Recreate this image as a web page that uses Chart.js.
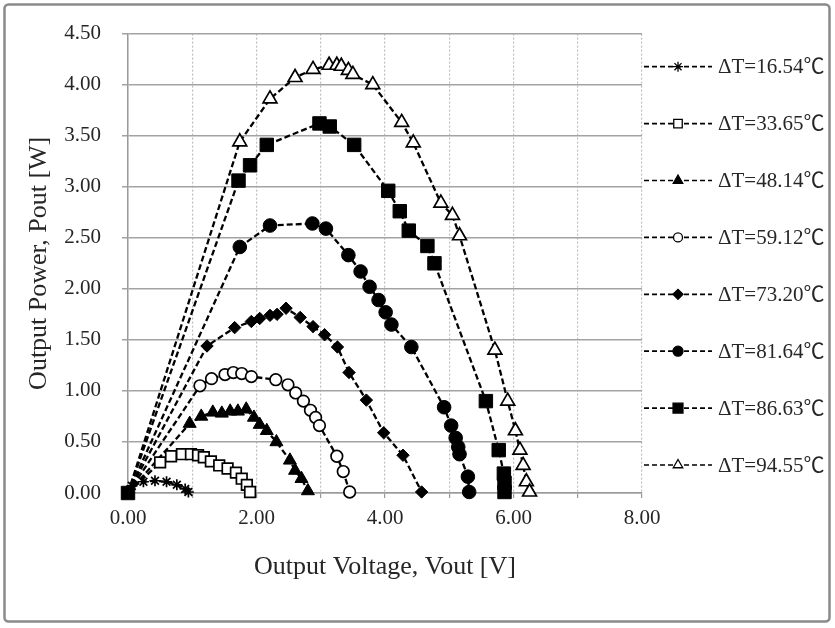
<!DOCTYPE html>
<html><head><meta charset="utf-8">
<script src="https://cdn.jsdelivr.net/npm/chart.js@4.4.1/dist/chart.umd.min.js"></script>
<style>html,body{margin:0;padding:0;background:#fff}canvas{display:block}</style>
</head><body>
<canvas id="c" width="835" height="628"></canvas>
<script>
// ---- data ----
const seriesLabels = ['ΔT=16.54℃','ΔT=33.65℃','ΔT=48.14℃','ΔT=59.12℃','ΔT=73.20℃','ΔT=81.64℃','ΔT=86.63℃','ΔT=94.55℃'];
const v1 = [0, 0.06, 0.24, 0.42, 0.60, 0.76, 0.89, 0.94];
const p1 = [0, 0.07, 0.11, 0.12, 0.11, 0.08, 0.04, 0.01];
const v2 = [0, 0.50, 0.67, 0.84, 0.98, 1.09, 1.18, 1.29, 1.42, 1.55, 1.68, 1.77, 1.85, 1.90];
const p2 = [0, 0.30, 0.36, 0.38, 0.38, 0.37, 0.35, 0.31, 0.27, 0.24, 0.20, 0.14, 0.08, 0.01];
const v3 = [0, 0.96, 1.14, 1.32, 1.46, 1.59, 1.71, 1.84, 1.96, 2.05, 2.16, 2.31, 2.52, 2.60, 2.70, 2.80];
const p3 = [0, 0.68, 0.75, 0.79, 0.78, 0.80, 0.80, 0.82, 0.74, 0.67, 0.61, 0.50, 0.32, 0.22, 0.14, 0.02];
const v4 = [0, 1.12, 1.30, 1.51, 1.64, 1.77, 1.92, 2.30, 2.49, 2.61, 2.73, 2.84, 2.92, 2.98, 3.25, 3.35, 3.45];
const p4 = [0, 1.05, 1.12, 1.16, 1.18, 1.17, 1.14, 1.11, 1.06, 0.98, 0.90, 0.81, 0.74, 0.66, 0.36, 0.21, 0.01];
const v5 = [0, 1.23, 1.66, 1.92, 2.05, 2.21, 2.32, 2.46, 2.68, 2.88, 3.06, 3.26, 3.44, 3.71, 3.98, 4.28, 4.57];
const p5 = [0, 1.44, 1.62, 1.68, 1.71, 1.74, 1.75, 1.81, 1.72, 1.63, 1.55, 1.43, 1.18, 0.91, 0.59, 0.37, 0.01];
const v6 = [0, 1.74, 2.21, 2.87, 3.08, 3.43, 3.62, 3.76, 3.90, 4.01, 4.10, 4.41, 4.92, 5.03, 5.10, 5.14, 5.16, 5.29, 5.31];
const p6 = [0, 2.41, 2.62, 2.64, 2.59, 2.33, 2.17, 2.02, 1.89, 1.77, 1.65, 1.43, 0.84, 0.66, 0.54, 0.45, 0.38, 0.16, 0.01];
const v7 = [0, 1.72, 1.90, 2.16, 2.98, 3.14, 3.52, 4.05, 4.23, 4.37, 4.66, 4.77, 5.57, 5.77, 5.85, 5.86, 5.86];
const p7 = [0, 3.06, 3.21, 3.41, 3.62, 3.59, 3.41, 2.96, 2.76, 2.57, 2.42, 2.25, 0.90, 0.42, 0.19, 0.10, 0.01];
const v8 = [0, 1.74, 2.21, 2.60, 2.88, 3.13, 3.25, 3.32, 3.43, 3.50, 3.81, 4.26, 4.44, 4.87, 5.05, 5.16, 5.71, 5.91, 6.03, 6.10, 6.15, 6.20, 6.25];
const p8 = [0, 3.44, 3.86, 4.07, 4.15, 4.19, 4.19, 4.18, 4.14, 4.10, 4.00, 3.63, 3.43, 2.84, 2.72, 2.52, 1.40, 0.90, 0.61, 0.42, 0.27, 0.11, 0.01];
const xTitle = 'Output Voltage, Vout [V]';
const yTitle = 'Output Power, Pout [W]';

// ---- styles ----
const volts = [v1, v2, v3, v4, v5, v6, v7, v8];
const powers = [p1, p2, p3, p4, p5, p6, p7, p8];
const markers = [
  {style:'star', r:5.5, open:true, lr:5},
  {style:'rect', r:7.5, open:true, lr:6},
  {style:'triangle', r:7.5, open:false, lr:5.5},
  {style:'circle', r:5.8, open:true, lr:4.5},
  {style:'rectRot', r:6.2, open:false, lr:5},
  {style:'circle', r:6.8, open:false, lr:5},
  {style:'rect', r:9.5, open:false, lr:7},
  {style:'triangle', r:8, open:true, lr:5.5}
];
const FONT = "'Liberation Serif','Times New Roman','Noto Sans CJK SC',serif";
const TXT = '#262626';

const datasets = seriesLabels.map((lab, i) => {
  const m = markers[i];
  const hideFirst = i !== 6;
  const fillCol = m.open ? '#ffffff' : '#000000';
  return {
    label: lab,
    order: i === 6 ? -1 : 0,
    data: volts[i].map((v, j) => ({x: v, y: powers[i][j]})),
    showLine: true,
    clip: false,
    borderColor: '#000',
    borderWidth: 2.3,
    borderDash: [6, 3],
    tension: 0,
    fill: false,
    pointStyle: m.style,
    pointRadius: (c) => (c.dataIndex === 0 && hideFirst) ? 0 : m.r,
    pointHoverRadius: (c) => (c.dataIndex === 0 && hideFirst) ? 0 : m.r,
    pointBackgroundColor: fillCol,
    pointBorderColor: '#000',
    pointBorderWidth: m.open ? 1.7 : 1
  };
});

const framePlugin = {
  id: 'frame',
  beforeDraw(chart) {
    const ctx = chart.ctx;
    ctx.save();
    ctx.fillStyle = '#fff';
    ctx.fillRect(0, 0, chart.width, chart.height);
    ctx.strokeStyle = '#8a8a8a';
    ctx.lineWidth = 2.5;
    ctx.beginPath();
    ctx.roundRect(4.5, 4.5, 825, 617, 4);
    ctx.stroke();
    ctx.restore();
  }
};

const legendPlugin = {
  id: 'lineLegend',
  afterDraw(chart) {
    const ctx = chart.ctx;
    chart.data.datasets.forEach((ds, i) => {
      const m = markers[i];
      const y = 66.7 + i * 56.9;
      ctx.save();
      ctx.strokeStyle = '#000';
      ctx.lineWidth = 1.7;
      ctx.setLineDash([5, 3]);
      ctx.beginPath();
      ctx.moveTo(644, y);
      ctx.lineTo(712, y);
      ctx.stroke();
      ctx.setLineDash([]);
      ctx.fillStyle = m.open ? '#fff' : '#000';
      ctx.strokeStyle = '#000';
      ctx.lineWidth = 1.3;
      Chart.helpers.drawPoint(ctx, {pointStyle: m.style, radius: m.lr, rotation: 0, borderWidth: 1.3}, 678, y);
      ctx.fillStyle = TXT;
      ctx.font = '21px ' + FONT;
      ctx.textBaseline = 'middle';
      ctx.textAlign = 'left';
      ctx.fillText(ds.label, 718, y + 1);
      ctx.restore();
    });
  }
};

new Chart(document.getElementById('c'), {
  type: 'scatter',
  data: {datasets},
  plugins: [framePlugin, legendPlugin],
  options: {
    responsive: false,
    animation: false,
    events: [],
    layout: {padding: {left: 0, right: 193, top: 29, bottom: 0}},
    plugins: {legend: {display: false}, tooltip: {enabled: false}},
    scales: {
      x: {
        type: 'linear', min: 0, max: 8,
        afterFit: (s) => { s.height = 135; },
        ticks: {stepSize: 1, padding: 8, color: TXT, font: {family: FONT, size: 21},
          callback: (v) => (Math.round(v) % 2 === 0 ? Number(v).toFixed(2) : '')},
        grid: {color: '#bdbdbd', lineWidth: 1.2, tickLength: 5, tickColor: '#9a9a9a'},
        border: {display: true, color: '#9a9a9a', width: 1.5, dash: [2, 2]},
        title: {display: true, text: xTitle, color: TXT, font: {family: FONT, size: 26}, padding: {top: 0, bottom: 45}}
      },
      y: {
        type: 'linear', min: 0, max: 4.5,
        afterFit: (s) => { s.width = 128; },
        ticks: {stepSize: 0.5, padding: 21, color: TXT, font: {family: FONT, size: 21},
          callback: (v) => Number(v).toFixed(2)},
        grid: {color: '#a3a3a3', lineWidth: 1.5, tickLength: 6, tickColor: '#a3a3a3'},
        border: {display: true, color: '#9a9a9a', width: 1.5},
        title: {display: true, text: yTitle, color: TXT, font: {family: FONT, size: 26}, padding: {top: 24, bottom: 0}}
      }
    }
  }
});
</script>
</body></html>
